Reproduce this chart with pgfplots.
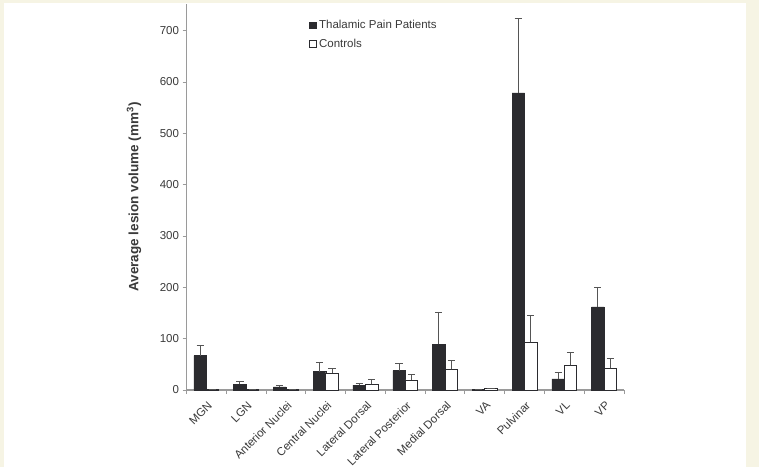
\documentclass[border=0pt]{standalone}
\usepackage{fontspec}
\setmainfont{Liberation Sans}
\usepackage{pgfplots}
\usepackage{pgfplotstable}
\pgfplotsset{compat=1.18}
\definecolor{cream}{HTML}{F6F4E4}
\definecolor{barDark}{HTML}{2B2B2F}
\definecolor{axgray}{HTML}{9A9A9A}
\definecolor{txt}{HTML}{3A3A3A}
\definecolor{errc}{HTML}{555555}

\pgfplotstableread{
x    tp    tperr  ctl   ctlerr
0.5  67    19     1     0
1.5  11    6.5    0.5   0
2.5  6     3      0.5   0
3.5  36    18     33    9
4.5  9.5   3.5    11    10
5.5  38    14     19.5  11.5
6.5  89.5  62.5   40    18.5
7.5  1     0      3     0
8.5  579   144    93    53
9.5  21.5  13.5   48    25.5
10.5 162   38     42    19
}\datatable

\begin{document}
\begin{tikzpicture}[x=1pt,y=1pt]
\useasboundingbox (0,0) rectangle (759,467);
\fill[cream] (0,0) rectangle (759,467);
\fill[white] (4,0) rectangle (746,463.5);
\begin{axis}[
  at={(186.5pt,77pt)}, anchor=south west,
  scale only axis, width=437.5pt, height=386pt,
  xmin=0, xmax=11, ymin=0, ymax=752,
  axis x line*=bottom, axis y line*=left,
  axis line style={draw=axgray, line width=1.1pt},
  tick style={draw=axgray, line width=1pt},
  tick align=outside,
  major tick length=4pt, minor tick length=4pt,
  ytick={0,100,...,700},
  xtick={0.5,1.5,...,10.5},
  xticklabels={MGN,LGN,Anterior Nuclei,Central Nuclei,Lateral Dorsal,Lateral Posterior,Medial Dorsal,VA,Pulvinar,VL,VP},
  minor xtick={0,1,...,11},
  every major x tick/.append style={draw=none},
  xticklabel style={rotate=45, anchor=north east, inner sep=1pt, xshift=-3pt, yshift=-4pt, font=\fontsize{11.5}{13}\selectfont, text=txt},
  yticklabel style={font=\fontsize{11.5}{13}\selectfont, text=txt},
  /pgf/number format/assume math mode=true,
  ylabel={Average lesion volume (mm\textsuperscript{3})},
  ylabel style={font=\fontsize{13.5}{15}\selectfont\bfseries, text=txt, at={(axis description cs:-0.12,0.5)}, anchor=center},
  ybar,
  bar width=12.5pt,
  legend image code/.code={\draw[#1] (0pt,-3.3pt) rectangle (6.6pt,3.3pt);},
  legend style={at={(axis description cs:0.28,0.962)}, anchor=north west, draw=none, fill=none,
    font=\fontsize{11.5}{13}\selectfont, text=txt, row sep=6pt, inner sep=0pt, nodes={inner sep=1.5pt, inner xsep=2.5pt}},
  legend cell align=left,
]
\addplot[fill=barDark, draw=barDark, bar shift=-6.25pt,
  error bars/.cd, y dir=plus, y explicit,
  error bar style={draw=errc, line width=0.9pt},
  error mark options={rotate=90, mark size=3.6pt, draw=errc, line width=0.9pt}]
  table[x=x, y=tp, y error=tperr] {\datatable};
\addplot[fill=white, draw=barDark, line width=0.8pt, bar shift=6.25pt,
  error bars/.cd, y dir=plus, y explicit,
  error bar style={draw=errc, line width=0.9pt},
  error mark options={rotate=90, mark size=3.6pt, draw=errc, line width=0.9pt}]
  table[x=x, y=ctl, y error=ctlerr] {\datatable};
\legend{Thalamic Pain Patients, Controls}
\end{axis}
\end{tikzpicture}
\end{document}
